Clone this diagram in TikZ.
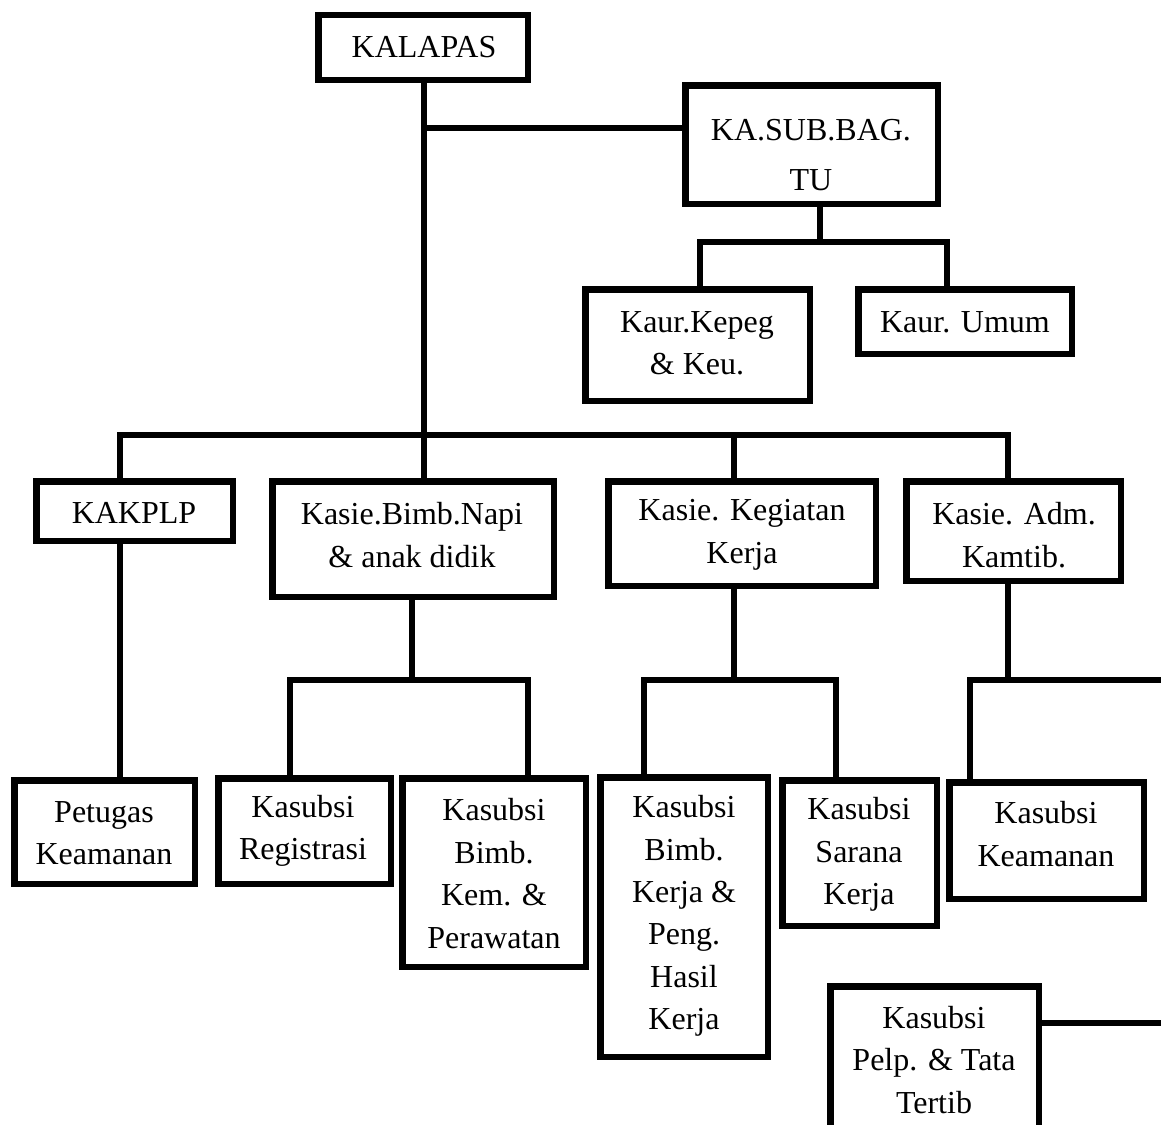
\documentclass[tikz,border=0pt]{standalone}
\usepackage{fontspec}
\setmainfont{Liberation Serif}
\newcommand\orgfs{\fontsize{32}{42.4}\selectfont}
\begin{document}
\begin{tikzpicture}[x=1pt,y=-1pt,
  box/.style={draw,line width=6.5pt,inner sep=0pt,outer sep=0pt,fill=white},
  ln/.style={line width=6pt,line join=miter},
  lbl/.style={font=\orgfs,align=center,inner sep=0pt}]
\useasboundingbox (0,0) rectangle (1161,1124);
\clip (0,0) rectangle (1161,1124);

% ---------- boxes ----------
\node[box,minimum width=209.5pt,minimum height=64.5pt]  (kalapas)    at (423,47.5)   {};
\node[box,minimum width=252.5pt,minimum height=118.5pt] (kasub)      at (811.5,144.5) {};
\node[box,minimum width=224.5pt,minimum height=111.5pt] (kepeg)      at (697.5,345)  {};
\node[box,minimum width=213.5pt,minimum height=64.5pt]  (umum)       at (965,321.5)  {};
\node[box,minimum width=196.5pt,minimum height=59.5pt]  (kakplp)     at (134.5,511)  {};
\node[box,minimum width=281.5pt,minimum height=115.5pt] (bimbnapi)   at (413,539)    {};
\node[box,minimum width=267.5pt,minimum height=104.5pt] (kegiatan)   at (742,533.5)  {};
\node[box,minimum width=214.5pt,minimum height=99.5pt]  (adm)        at (1013.5,531) {};
\node[box,minimum width=180.5pt,minimum height=103.5pt] (petugas)    at (104.5,832)  {};
\node[box,minimum width=172.5pt,minimum height=105.5pt] (registrasi) at (304.5,831)  {};
\node[box,minimum width=183.5pt,minimum height=188.5pt] (kem)        at (494,872.5)  {};
\node[box,minimum width=167.5pt,minimum height=279.5pt] (bimbkerja)  at (684,917)    {};
\node[box,minimum width=154.5pt,minimum height=145.5pt] (sarana)     at (859.5,853)  {};
\node[box,minimum width=194.5pt,minimum height=116.5pt] (keamanan)   at (1046.5,840.5) {};
\node[box,minimum width=208.5pt,minimum height=200pt]   (pelp)       at (934.5,1086.25) {};

% ---------- labels ----------
\node[lbl] (t-kalapas) at (424,47) {KALAPAS};
\node[lbl] (t-kasub1) at (811,130) {KA.SUB.BAG.};
\node[lbl] (t-kasub2) at (811,180) {TU};
\node[lbl] (t-kepeg) at (697,343) {Kaur.Kepeg\\\& Keu.};
\node[lbl] (t-umum) at (965,322) {Kaur. Umum};
\node[lbl] (t-kakplp) at (134,513) {KAKPLP};
\node[lbl] (t-bimbnapi) at (412,535) {Kasie.Bimb.Napi\\\& anak didik};
\node[lbl] (t-kegiatan) at (742,535) {Kasie. Kegiatan\\Kerja};
\node[lbl] (t-adm) at (1014,535) {Kasie. Adm.\\Kamtib.};
\node[lbl] (t-petugas) at (104,833) {Petugas\\Keamanan};
\node[lbl] (t-registrasi) at (303,831) {Kasubsi\\Registrasi};
\node[lbl] (t-kem) at (494,873.5) {Kasubsi\\Bimb.\\Kem. \&\\Perawatan};
\node[lbl] (t-bimbkerja) at (684,916) {Kasubsi\\Bimb.\\Kerja \&\\Peng.\\Hasil\\Kerja};
\node[lbl] (t-sarana) at (859,854.5) {Kasubsi\\Sarana\\Kerja};
\node[lbl] (t-keamanan) at (1046,834) {Kasubsi\\Keamanan};
\node[lbl] (t-pelp) at (934,1060) {Kasubsi\\Pelp. \& Tata\\Tertib};

% ---------- junction coordinates ----------
\coordinate (tr) at (424,435);
\coordinate (jt) at (424,128);
\coordinate (bk) at (120,435);
\coordinate (bg) at (734,435);
\coordinate (ba) at (1008,435);
\coordinate (um) at (820,242);
\coordinate (uk) at (700,242);
\coordinate (uu) at (947,242);
\coordinate (nm) at (412,680);
\coordinate (n1) at (290,680);
\coordinate (n2) at (528,680);
\coordinate (gm) at (734,680);
\coordinate (g1) at (644,680);
\coordinate (g2) at (836,680);
\coordinate (am) at (1008,680);
\coordinate (a1) at (970,680);
\coordinate (a2) at (1175,680);
\coordinate (pe) at (1175,1023);

% ---------- connectors ----------
\draw[ln] (tr |- kalapas.south) -- (tr |- bimbnapi.north);
\draw[ln] (jt) -- (jt -| kasub.west);
\draw[ln] (um |- kasub.south) -- (um);
\draw[ln] (uk |- kepeg.north) -- (uk) -- (uu) -- (uu |- umum.north);
\draw[ln] (bk |- kakplp.north) -- (bk) -- (ba) -- (ba |- adm.north);
\draw[ln] (bg) -- (bg |- kegiatan.north);
\draw[ln] (bk |- kakplp.south) -- (bk |- petugas.north);
\draw[ln] (nm |- bimbnapi.south) -- (nm);
\draw[ln] (n1 |- registrasi.north) -- (n1) -- (n2) -- (n2 |- kem.north);
\draw[ln] (gm |- kegiatan.south) -- (gm);
\draw[ln] (g1 |- bimbkerja.north) -- (g1) -- (g2) -- (g2 |- sarana.north);
\draw[ln] (am |- adm.south) -- (am);
\draw[ln] (a1 |- keamanan.north) -- (a1) -- (a2);
\draw[ln] (pelp.east |- pe) -- (pe);
\end{tikzpicture}
\end{document}
